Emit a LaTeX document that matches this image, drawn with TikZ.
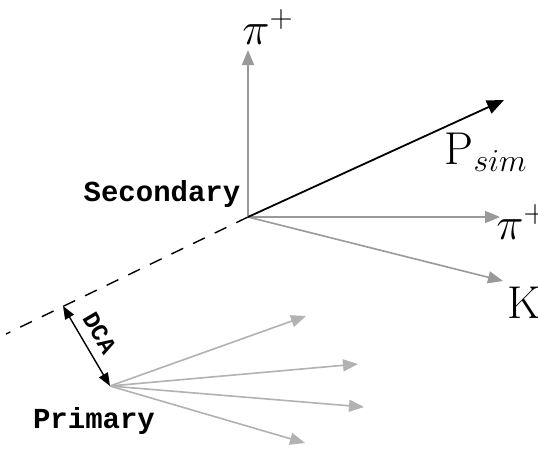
\documentclass[tikz,border=0pt]{standalone}
\usepackage{graphicx}
\usepackage{fontspec}
\newfontfamily\lblfont{Liberation Mono}
\usetikzlibrary{arrows.meta}
\definecolor{trkgray}{gray}{0.6}
\definecolor{primgray}{gray}{0.7}
\newcommand{\biglbl}[1]{\scalebox{1.85}{\fontsize{24.88}{28}\selectfont$#1$}}
\begin{document}
\begin{tikzpicture}[x=1pt,y=-1pt,
  trk/.style={line width=1.6pt, draw=trkgray, -{Triangle[length=15pt,width=12pt,fill=trkgray]}},
  ptrk/.style={line width=1.6pt, draw=primgray, -{Triangle[length=15pt,width=12pt,fill=primgray]}},
  psim/.style={line width=1.8pt, draw=black, -{Triangle[length=17pt,width=14pt]}},
  dcaarrow/.style={line width=1.4pt, draw=black, {Triangle[length=13pt,width=10pt]}-{Triangle[length=13pt,width=10pt]}},
  vtxlabel/.style={font=\lblfont\bfseries\fontsize{29}{32}\selectfont, inner sep=0pt},
  mathlabel/.style={inner sep=0pt}]
\useasboundingbox (0,0) rectangle (538,450);
\fill[white] (0,0) rectangle (538,450);
% vertices
\coordinate (sec) at (248,217);
\coordinate (prim) at (110,386);
\coordinate (dashend) at (6,334);
\coordinate (dcatop) at (63,306);
% tips
\coordinate (tpiup) at (248,50);
\coordinate (tpsim) at (504,100);
\coordinate (tpiright) at (500,217);
\coordinate (tk) at (503,281);
\coordinate (p1) at (306,316);
\coordinate (p2) at (358,364);
\coordinate (p3) at (364,407);
\coordinate (p4) at (305,443);
% labels
\node[vtxlabel] (seclabel) at (162,194) {Secondary};
\node[vtxlabel] (primlabel) at (94,421) {Primary};
\node[mathlabel] (piup) at (268,27) {\biglbl{\pi^{\scriptscriptstyle +}}};
\node[mathlabel] (psimlabel) at (486,152) {\biglbl{\mathrm{P}_{\scriptscriptstyle sim}}};
\node[mathlabel] (piright) at (522,222) {\biglbl{\pi^{\scriptscriptstyle +}}};
\node[mathlabel] (klabel) at (524,303) {\biglbl{\mathrm{K}}};
% dashed line
\draw[line width=1.4pt, dash pattern=on 13pt off 11pt] (sec) -- (dashend);
% secondary tracks
\draw[trk] (sec) -- (tpiup);
\draw[trk] (sec) -- (tpiright);
\draw[trk] (sec) -- (tk);
\draw[psim] (sec) -- (tpsim);
% primary tracks
\draw[ptrk] (prim) -- (p1);
\draw[ptrk] (prim) -- (p2);
\draw[ptrk] (prim) -- (p3);
\draw[ptrk] (prim) -- (p4);
% DCA
\draw[dcaarrow] (dcatop) -- (prim) node[pos=0.45, sloped, above=9pt, font=\lblfont\bfseries\fontsize{24}{26}\selectfont, inner sep=0pt] (dcalabel) {DCA};
\end{tikzpicture}
\end{document}
